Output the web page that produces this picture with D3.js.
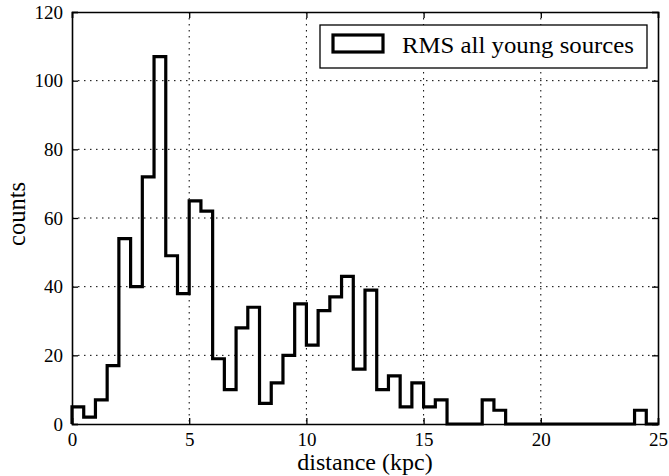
<!DOCTYPE html>
<html><head><meta charset="utf-8">
<script src="https://cdn.jsdelivr.net/npm/d3@7"></script>
<style>body{margin:0;background:#fff}svg{display:block}text{font-family:"Liberation Serif","Times New Roman",serif;fill:#000}</style>
</head><body><svg id="c" width="669" height="476"></svg>
<script>
const binWidth = 0.5;
const binStarts = d3.range(0, 25, 0.5);
const counts = [5,2,7,17,54,40,72,107,49,38,65,62,19,10,28,34,6,12,20,35,23,33,37,43,16,39,10,14,5,12,5,7,0,0,0,7,4,0,0,0,0,0,0,0,0,0,0,0,4,0];
const xTicks = [0,5,10,15,20,25];
const yTicks = [0,20,40,60,80,100,120];
const legendLabel = "RMS all young sources";
const xLabel = "distance (kpc)";
const yLabel = "counts";

const svg = d3.select("#c");
const L=72,R=658,T=12,B=424;
const x = d3.scaleLinear().domain([0,25]).range([L,R]);
const y = d3.scaleLinear().domain([0,120]).range([B,T]);

// grid
const g = svg.append("g");
g.selectAll(".gx").data(xTicks.slice(1,-1)).join("line")
  .attr("x1",d=>x(d)).attr("x2",d=>x(d)).attr("y1",T).attr("y2",B)
  .attr("stroke","#000").attr("stroke-width",1).attr("stroke-dasharray","1.5,4.5");
g.selectAll(".gy").data(yTicks.slice(1,-1)).join("line")
  .attr("y1",d=>y(d)).attr("y2",d=>y(d)).attr("x1",L).attr("x2",R)
  .attr("stroke","#000").attr("stroke-width",1).attr("stroke-dasharray","1.5,4.5");

// histogram step outline
let pts = [[0,0]];
counts.forEach((c,i)=>{const s=binStarts[i]; pts.push([s,c]); pts.push([s+binWidth,c]);});
pts.push([25,0]);
const line = d3.line().x(d=>x(d[0])).y(d=>y(d[1]));
svg.append("path").attr("d",line(pts)).attr("fill","none").attr("stroke","#000")
  .attr("stroke-width",3.2).attr("stroke-linejoin","miter");

// axes (inward ticks, box)
const axB = d3.axisBottom(x).tickValues(xTicks).tickSize(-6).tickPadding(9).tickFormat(d3.format("d"));
const axL = d3.axisLeft(y).tickValues(yTicks).tickSize(-6).tickPadding(9).tickFormat(d3.format("d"));
const axT = d3.axisTop(x).tickValues(xTicks).tickSize(-6).tickFormat("");
const axR = d3.axisRight(y).tickValues(yTicks).tickSize(-6).tickFormat("");
function style(sel){sel.select(".domain").attr("stroke-width",1.6);sel.selectAll(".tick line").attr("stroke-width",1.3);sel.selectAll("text").style("font-family",'"Liberation Serif",serif').style("font-size","19px").attr("fill","#000");}
svg.append("g").attr("transform",`translate(0,${B})`).call(axB).call(style);
svg.append("g").attr("transform",`translate(${L},0)`).call(axL).call(style);
svg.append("g").attr("transform",`translate(0,${T})`).call(axT).call(style);
svg.append("g").attr("transform",`translate(${R},0)`).call(axR).call(style);

// labels
svg.append("text").attr("x",(L+R)/2).attr("y",470).attr("text-anchor","middle").style("font-size","24px").text(xLabel);
svg.append("text").attr("transform",`translate(25,${214}) rotate(-90)`).attr("text-anchor","middle").style("font-size","24.5px").text(yLabel);

// legend
const lg = svg.append("g");
lg.append("rect").attr("x",320).attr("y",25).attr("width",327).attr("height",43).attr("fill","#fff").attr("stroke","#000").attr("stroke-width",1.3);
lg.append("rect").attr("x",333).attr("y",35).attr("width",50).attr("height",17).attr("fill","none").attr("stroke","#000").attr("stroke-width",3.2);
lg.append("text").attr("x",402).attr("y",53).attr("textLength",232).attr("lengthAdjust","spacingAndGlyphs").style("font-size","24px").text(legendLabel);
</script></body></html>
